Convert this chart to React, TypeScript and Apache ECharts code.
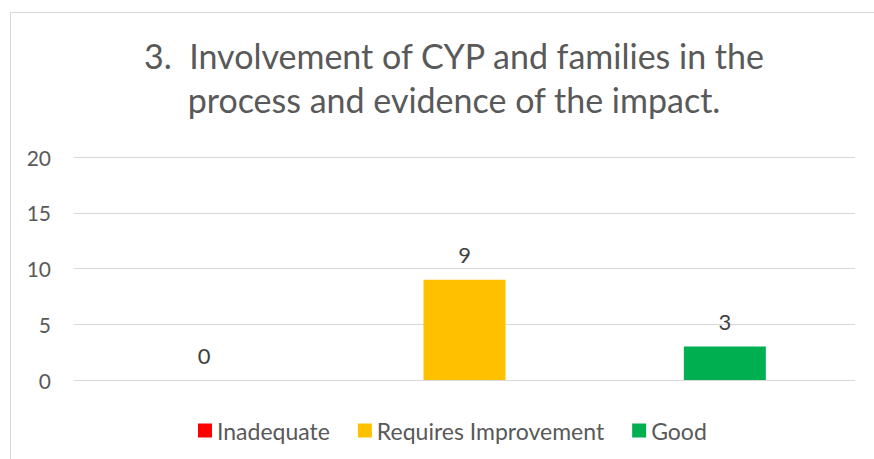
import React, { useEffect, useRef } from "react";
import * as echarts from "echarts";

const categories = ["Inadequate", "Requires Improvement", "Good"];
const seriesNames = ["Inadequate", "Requires Improvement", "Good"];
const seriesValues = [0, 9, 3];
const seriesColors = ["#FF0000", "#FFC000", "#00B050"];
const yTicks = { min: 0, max: 20, interval: 5 };
const titleText = "3.  Involvement of CYP and families in the\nprocess and evidence of the impact.";

const FONT = "Lato";

export default function App() {
  const ref = useRef<HTMLDivElement>(null);
  useEffect(() => {
    document.body.style.margin = "0";
    const chart = echarts.init(ref.current!, null, { renderer: "svg" });
    const series = seriesNames.map((name, i) => ({
      name,
      type: "bar",
      stack: "all",
      barWidth: 82,
      itemStyle: { color: seriesColors[i] },
      label: {
        show: true,
        position: "top",
        distance: 14,
        fontFamily: FONT,
        fontSize: 22,
        color: "#404040",
      },
      data: categories.map((_, j) => (j === i ? seriesValues[i] : "-")),
    }));
    chart.setOption({
      animation: false,
      backgroundColor: "#ffffff",
      title: {
        text: titleText,
        left: 449,
        top: 28,
        textAlign: "center",
        textStyle: {
          fontFamily: FONT,
          fontSize: 34,
          fontWeight: "normal",
          color: "#595959",
          lineHeight: 44,
        },
      },
      graphic: [
        {
          type: "rect",
          shape: { x: 10.5, y: 12.5, width: 900, height: 500 },
          style: { fill: "none", stroke: "#d9d9d9", lineWidth: 1 },
          silent: true,
        },
      ],
      legend: {
        data: seriesNames,
        left: 193,
        top: 414,
        itemWidth: 14,
        itemHeight: 14,
        itemGap: 28,
        icon: "rect",
        textStyle: { fontFamily: FONT, fontSize: 23, color: "#595959" },
      },
      grid: { left: 74, right: 19, top: 157, bottom: 79, containLabel: false },
      xAxis: {
        type: "category",
        data: categories,
        axisLine: { show: false },
        axisTick: { show: false },
        axisLabel: { show: false },
      },
      yAxis: {
        type: "value",
        min: yTicks.min,
        max: yTicks.max,
        interval: yTicks.interval,
        axisLine: { show: false },
        axisTick: { show: false },
        axisLabel: { fontFamily: FONT, fontSize: 21, color: "#595959", margin: 23 },
        splitLine: { lineStyle: { color: "#d9d9d9", width: 1 } },
      },
      series,
    });
    return () => chart.dispose();
  }, []);
  return <div ref={ref} style={{ position: "absolute", left: 0, top: 0, width: 874, height: 459 }} />;
}
